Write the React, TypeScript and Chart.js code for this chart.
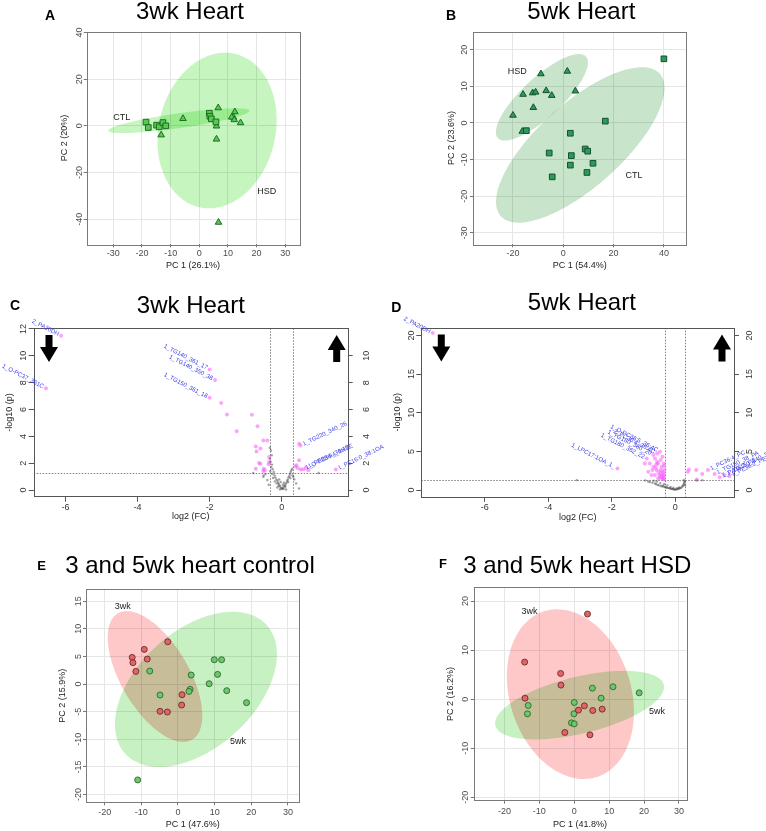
import React, { useEffect, useRef } from 'react';
import { Chart, registerables } from 'chart.js';

Chart.register(...registerables);

const FONT = "'Liberation Sans', Arial, Helvetica, sans-serif";
Chart.defaults.font.family = FONT;

// ---------------- Panel A : 3wk Heart (PCA) ----------------
const aCtlX = [-18.6, -17.8, -14.9, -14.0, -12.7, -11.7, 3.5, 3.7, 4.2, 5.8];
const aCtlY = [1.6, -0.7, 0.3, -0.4, 1.4, 0.0, 5.4, 4.1, 3.0, 1.7];
const aHsdX = [-5.7, -13.3, 6.6, 6.0, 6.0, 12.4, 11.9, 11.3, 12.2, 14.4, 6.7];
const aHsdY = [3.1, -3.9, 7.7, -0.1, -5.7, 6.0, 3.7, 3.7, 2.6, 1.3, -41.3];
// ellipse: [centerX, centerY, halfWidth, halfHeight, xOffsetOfTopPoint]
const aCtlEllipse = [-7.15, 2.2, 24.65, 5.3, 19.7];
const aHsdEllipse = [6.2, -2.0, 20.8, 33.3, 2.8];
const aXTicks = [-30, -20, -10, 0, 10, 20, 30];
const aYTicks = [-40, -20, 0, 20, 40];

// ---------------- Panel B : 5wk Heart (PCA) ----------------
const bHsdX = [-8.9, 1.6, -16.0, -12.2, -11.0, -6.8, -4.6, 4.8, -11.9, -20.0, -16.3];
const bHsdY = [13.4, 14.1, 7.8, 8.2, 8.4, 8.8, 7.5, 8.7, 4.2, 2.1, -2.3];
const bCtlX = [40.0, -14.7, 16.7, 2.8, -5.6, 3.2, 8.7, 9.7, 2.8, 11.8, 9.4, -4.4];
const bCtlY = [17.5, -2.1, 0.5, -2.8, -8.2, -8.9, -7.1, -7.7, -11.5, -11.0, -13.5, -14.7];
const bHsdEllipse = [-8.5, 7.0, 18.3, 11.8, 14.7];
const bCtlEllipse = [6.75, -6.0, 33.5, 21.2, 24.5];
const bXTicks = [-20, 0, 20, 40];
const bYTicks = [-30, -20, -10, 0, 10, 20];

// ---------------- Panel C : 3wk Heart (volcano) ----------------
const cSigX = [-6.12, -6.54, -2.0, -1.85, -2.0, -1.68, -1.52, -0.83, -1.25, -0.67, -0.51, -0.40, -0.72, -0.59, -0.70, -0.63, -0.59, -0.72, -0.50, -0.47, -0.51, -0.36, -0.35, -0.35,
  0.48, 0.52, 0.48, 0.41, 0.53, 0.67, 0.45, 0.60, 0.38, 0.74, 1.50];
const cSigY = [11.5, 7.59, 8.99, 8.2, 6.87, 6.48, 5.64, 5.62, 4.38, 4.75, 3.69, 3.69, 3.25, 3.10, 2.88, 2.02, 1.97, 1.6, 1.6, 1.48, 1.43, 1.92, 2.46, 2.09,
  3.45, 3.32, 2.22, 1.85, 1.53, 1.67, 1.62, 1.55, 1.75, 1.48, 1.53];
const cNsX = [-0.33, -0.30, -0.28, -0.33, -0.31, -0.27, -0.29, -0.25, -0.32, -0.22, -0.26, -0.20, -0.18, -0.24, -0.15, -0.12, -0.19, -0.10, -0.08, -0.14, -0.06, -0.04, -0.02, -0.09, 0.0, 0.02, 0.04, -0.05, 0.05, 0.07, 0.09, 0.11, 0.13, 0.10, 0.15, 0.17, 0.19, 0.21, 0.18, 0.23, 0.25, 0.27, 0.29, 0.24, 0.30, -0.50, -0.79, 1.02, 0.48, 0.32, -0.51, -0.40, -0.45, 0.40, 0.35, -0.36, 0.12, -0.12, -0.03, 0.03, 0.06, -0.07];
const cNsY = [3.15, 2.95, 2.6, 2.34, 2.1, 1.9, 1.7, 1.55, 1.4, 1.35, 1.2, 1.1, 0.95, 0.9, 0.8, 0.7, 0.65, 0.55, 0.45, 0.5, 0.35, 0.25, 0.15, 0.3, 0.1, 0.12, 0.2, 0.05, 0.08, 0.3, 0.35, 0.45, 0.55, 0.25, 0.7, 0.8, 0.95, 1.05, 0.6, 1.2, 1.35, 1.48, 1.6, 0.9, 1.1, 1.1, 1.28, 1.28, 0.12, 0.99, 0.99, 0.75, 1.2, 0.5, 0.8, 0.4, 0.05, 0.2, 0.6, 0.4, 0.55, 0.8];
const cLabelText = ['2_PA20DH', '1_O-PC37_361C', '1_TG140_361_17', '1_TG140_350_38', '1_TG150_361_18', '1_TG220_340_26', '1_O-PE36:4_36:2E', '1_PE38:6_36:4E', '1_PE16:0_38:1OA'];
const cLabelX = [-6.12, -6.54, -2.0, -1.85, -2.0, 0.52, 0.60, 0.67, 1.50];
const cLabelY = [11.5, 7.59, 8.99, 8.2, 6.87, 3.32, 1.55, 1.67, 1.53];
const cXTicks = [-6, -4, -2, 0];
const cYTicks = [0, 2, 4, 6, 8, 10, 12];
const cY2Ticks = [0, 2, 4, 6, 8, 10];

// ---------------- Panel D : 5wk Heart (volcano) ----------------
const dSigX = [-7.64, -1.82, -0.96, -0.90, -0.85, -0.80, -0.75, -0.69, -0.69, -0.64, -0.64, -0.59, -0.57, -0.57, -0.54, -0.54, -0.50, -0.48, -0.46, -0.46, -0.43, -0.43, -0.40, -0.40, -0.38, -0.36, -0.35, -0.34, -0.62, -0.52, -0.45, -0.38, -0.37, -0.41, -0.48, -0.72, -0.60, -0.35, -0.36,
  0.40, 0.43, 0.66, 0.85, 1.03, 1.24, 1.40, 1.55, 1.71, 0.68];
const dSigY = [20.3, 2.8, 3.45, 4.09, 2.37, 3.45, 1.94, 4.53, 3.02, 4.09, 1.94, 2.59, 4.74, 3.66, 3.45, 1.51, 1.94, 4.96, 3.88, 2.59, 3.02, 1.72, 4.31, 1.51, 2.16, 3.45, 1.94, 2.59, 2.9, 2.3, 2.05, 1.45, 1.75, 2.4, 1.6, 2.6, 3.3, 3.1, 1.36,
  2.37, 2.67, 2.59, 2.07, 2.59, 2.07, 1.64, 1.94, 1.81, 1.38];
const dNsX = [-3.1, -0.95, -0.85, -0.80, -0.72, -0.68, -0.64, -0.60, -0.55, -0.58, -0.50, -0.47, -0.44, -0.40, -0.38, -0.35, -0.33, -0.30, -0.27, -0.24, -0.20, -0.17, -0.14, -0.11, -0.08, -0.05, -0.02, 0.01, 0.04, 0.07, 0.10, 0.13, 0.16, 0.19, 0.22, 0.24, 0.26, 0.28, 0.29, 0.30, 0.27, 0.31, 0.12, -0.15, -0.25, 0.05, -0.06, 0.67, 0.85];
const dNsY = [1.29, 1.25, 1.1, 1.05, 0.95, 1.2, 0.86, 0.75, 0.65, 1.1, 0.6, 0.9, 0.5, 0.55, 0.45, 0.75, 0.4, 0.35, 0.32, 0.28, 0.25, 0.22, 0.18, 0.15, 0.12, 0.1, 0.08, 0.07, 0.09, 0.12, 0.16, 0.2, 0.25, 0.32, 0.45, 0.55, 0.7, 0.85, 1.0, 1.15, 1.3, 0.6, 0.35, 0.4, 0.6, 0.25, 0.3, 1.25, 1.28];
const dLabelText = ['2_PA20DH', '1_O-PC38:5_36:4C', '2_PC36:4_36:4C', '1_TG160_380_20', '1_TG180_362_22', '1_LPC17:1OA_1_', '1_PC36:4_PC', '1_TG160_38_PA', '1_PA36:2_PA', '1_TG150_340_30', '1_PE36:2_PE'];
const dLabelX = [-7.64, -0.48, -0.57, -0.69, -0.90, -1.82, 1.03, 1.24, 1.40, 1.55, 1.71];
const dLabelY = [20.3, 4.96, 4.74, 4.53, 4.09, 2.8, 2.59, 2.07, 1.64, 1.94, 1.81];
const dXTicks = [-6, -4, -2, 0];
const dYTicks = [0, 5, 10, 15, 20];

const fcCut = 0.32;
const pCut = 1.3;

// ---------------- Panel E : 3 and 5wk heart control ----------------
const eW3X = [-2.8, -9.2, -12.5, -8.4, -12.3, -11.5, 1.1, 1.0, -4.9, -2.9];
const eW3Y = [7.65, 6.27, 4.82, 4.52, 3.86, 2.29, -1.93, -3.80, -4.94, -5.06];
const eW5X = [-7.7, -4.9, 3.6, 3.3, 3.0, 9.9, 11.9, 10.8, 8.5, 13.3, 18.7, -11.0];
const eW5Y = [2.35, -1.99, 1.63, -0.96, -1.33, 4.40, 4.40, 1.75, 0.06, -1.20, -3.37, -17.35];
const eW3Ellipse = [-6.27, 1.36, 12.9, 11.84, -7.7];
const eW5Ellipse = [4.9, -0.96, 22.1, 14.04, 10.0];
const eXTicks = [-20, -10, 0, 10, 20, 30];
const eYTicks = [-20, -15, -10, -5, 0, 5, 10, 15];

// ---------------- Panel F : 3 and 5wk heart HSD ----------------
const fW3X = [3.8, -14.2, -3.9, -3.8, -14.1, 2.9, 1.2, 5.3, 8.0, -2.7, 4.5];
const fW3Y = [17.35, 7.55, 5.24, 2.86, 0.2, -1.36, -2.24, -2.31, -2.04, -6.80, -7.28];
const fW5X = [-13.2, -13.4, 0.0, -0.1, -0.8, 0.0, 5.2, 7.7, 11.1, 18.6];
const fW5Y = [-1.29, -2.99, -0.68, -2.99, -4.83, -5.03, 2.24, 0.2, 2.52, 1.29];
const fW3Ellipse = [-1.1, 1.02, 18.2, 17.3, -3.8];
const fW5Ellipse = [1.53, -1.22, 24.2, 6.99, 12.8];
const fXTicks = [-20, -10, 0, 10, 20, 30];
const fYTicks = [-20, -10, 0, 10, 20];

const pts = (xs: number[], ys: number[]) => xs.map((x, i) => ({ x, y: ys[i] }));
const labels = (t: string[], xs: number[], ys: number[]) => t.map((text, i) => ({ text, x: xs[i], y: ys[i] }));

const W = 766;
const H = 831;

const sq = (data: any, bg: string, bd: string) => ({ data, pointStyle: 'rect', pointRadius: 4, backgroundColor: bg, borderColor: bd, borderWidth: 1 });
const tri = (data: any, bg: string, bd: string) => ({ data, pointStyle: 'triangle', pointRadius: 3.8, backgroundColor: bg, borderColor: bd, borderWidth: 1 });
const circ = (data: any, bg: string, bd: string) => ({ data, pointStyle: 'circle', pointRadius: 3, backgroundColor: bg, borderColor: bd, borderWidth: 0.9 });
const sig = (data: any) => ({ data, pointStyle: 'circle', pointRadius: 2, backgroundColor: 'rgba(250,90,250,0.55)', borderWidth: 0 });
const ns = (data: any) => ({ data, pointStyle: 'circle', pointRadius: 1.2, backgroundColor: 'rgba(70,70,70,0.5)', borderWidth: 0 });

const RED_E = 'rgb(255,200,200)';
const GRN_E = 'rgb(200,241,195)';

const PANELS: any[] = [
  {
    kind: 'pca', box: [86.7, 31.7, 299.3, 244.3], xRange: [-39.3, 34.9], yRange: [-50.7, 40.3],
    xTicks: aXTicks, yTicks: aYTicks, xTitle: 'PC 1 (26.1%)', yTitle: 'PC 2 (20%)',
    title: '3wk Heart', titleAt: [190, 18.5], letter: 'A', letterAt: [50, 20],
    yTitleDist: 22.4, xTitleDist: 21.4, xTickDist: 9.7, yTickDist: 7,
    ellipses: [{ e: aHsdEllipse, color: 'rgb(198,245,192)' }, { e: aCtlEllipse, color: 'rgb(198,245,192)' }],
    groups: [{ text: 'CTL', x: -27.1, y: 3.6 }, { text: 'HSD', x: 23.5, y: -27.9 }],
    datasets: [sq(pts(aCtlX, aCtlY), '#55C855', '#1E6E1E'), tri(pts(aHsdX, aHsdY), '#55C855', '#1E6E1E')],
  },
  {
    kind: 'pca', box: [473, 31.7, 686.3, 244.3], xRange: [-35.9, 48.9], yRange: [-33.1, 24.9],
    xTicks: bXTicks, yTicks: bYTicks, xTitle: 'PC 1 (54.4%)', yTitle: 'PC 2 (23.6%)',
    title: '5wk Heart', titleAt: [581.3, 18.5], letter: 'B', letterAt: [451, 20],
    yTitleDist: 21.7, xTitleDist: 21.4, xTickDist: 9.7, yTickDist: 8,
    ellipses: [{ e: bHsdEllipse, color: 'rgb(200,228,202)' }, { e: bCtlEllipse, color: 'rgb(200,228,202)' }],
    groups: [{ text: 'HSD', x: -18.3, y: 14.0 }, { text: 'CTL', x: 28.1, y: -14.4 }],
    datasets: [sq(pts(bCtlX, bCtlY), '#2E9A5A', '#14512F'), tri(pts(bHsdX, bHsdY), '#2E9A5A', '#14512F')],
  },
  {
    kind: 'volcano', box: [33.7, 328.3, 347.7, 496.7], xRange: [-6.88, 1.83], yRange: [-0.49, 12.05],
    xTicks: cXTicks, yTicks: cYTicks, y2Ticks: cY2Ticks, xTitle: 'log2 (FC)', yTitle: '-log10 (p)',
    title: '3wk Heart', titleAt: [190.8, 312.5], letter: 'C', letterAt: [15, 310],
    yTitleDist: 23.7, xTitleDist: 20, xTickDist: 10.6, yTickDist: 9.7, y2TickDist: 19,
    arrows: [{ side: 'left', d: 15.3, dir: 'down' }, { side: 'right', d: 11, dir: 'up' }],
    labels: labels(cLabelText, cLabelX, cLabelY),
    datasets: [ns(pts(cNsX, cNsY)), sig(pts(cSigX, cSigY))],
  },
  {
    kind: 'volcano', box: [421.3, 327.7, 734, 496.7], xRange: [-8.0, 1.85], yRange: [-0.86, 21.0],
    xTicks: dXTicks, yTicks: dYTicks, y2Ticks: dYTicks, xTitle: 'log2 (FC)', yTitle: '-log10 (p)',
    title: '5wk Heart', titleAt: [581.8, 310], letter: 'D', letterAt: [396.3, 311.7],
    yTitleDist: 23.3, xTitleDist: 20.6, xTickDist: 10.6, yTickDist: 10, y2TickDist: 15.7,
    arrows: [{ side: 'left', d: 20, dir: 'down' }, { side: 'right', d: 12, dir: 'up' }],
    labels: labels(dLabelText, dLabelX, dLabelY),
    datasets: [ns(pts(dNsX, dNsY)), sig(pts(dSigX, dSigY))],
  },
  {
    kind: 'pca', box: [86, 589, 299.3, 802.3], xRange: [-25.1, 33.1], yRange: [-21.4, 17.2],
    xTicks: eXTicks, yTicks: eYTicks, xTitle: 'PC 1 (47.6%)', yTitle: 'PC 2 (15.9%)',
    title: '3 and 5wk heart control', titleAt: [190, 573.3], letter: 'E', letterAt: [41.7, 570], letterSize: 13,
    yTitleDist: 23.3, xTitleDist: 22.7, xTickDist: 10.4, yTickDist: 7,
    ellipses: [{ e: eW3Ellipse, color: RED_E }, { e: eW5Ellipse, color: GRN_E }],
    groups: [{ text: '3wk', x: -15.1, y: 14.1 }, { text: '5wk', x: 16.4, y: -10.4 }],
    datasets: [circ(pts(eW3X, eW3Y), '#DE6666', '#6E2A2A'), circ(pts(eW5X, eW5Y), '#6CC66C', '#2C6A2C')],
  },
  {
    kind: 'pca', box: [473.7, 587.3, 686.3, 800.7], xRange: [-28.8, 32.1], yRange: [-20.7, 22.8],
    xTicks: fXTicks, yTicks: fYTicks, xTitle: 'PC 1 (41.8%)', yTitle: 'PC 2 (16.2%)',
    title: '3 and 5wk heart HSD', titleAt: [577.2, 572.7], letter: 'F', letterAt: [443, 568.3], letterSize: 13,
    yTitleDist: 23, xTitleDist: 24.3, xTickDist: 11, yTickDist: 8.5,
    ellipses: [{ e: fW3Ellipse, color: RED_E }, { e: fW5Ellipse, color: GRN_E }],
    groups: [{ text: '3wk', x: -12.8, y: 17.8 }, { text: '5wk', x: 23.7, y: -2.6 }],
    datasets: [circ(pts(fW3X, fW3Y), '#DE6666', '#6E2A2A'), circ(pts(fW5X, fW5Y), '#6CC66C', '#2C6A2C')],
  },
];

function drawEllipse(chart: any, e: number[], color: string) {
  const ctx = chart.ctx;
  const xs = chart.scales.x;
  const ys = chart.scales.y;
  const [cx, cy, rx, ry, tdx] = e;
  const ax = rx;
  const ay = (ry * tdx) / rx;
  const by = ry * Math.sqrt(Math.max(0, 1 - (tdx / rx) * (tdx / rx)));
  ctx.beginPath();
  const n = 160;
  for (let i = 0; i <= n; i++) {
    const t = (i / n) * Math.PI * 2;
    const dx = cx + ax * Math.cos(t);
    const dy = cy + ay * Math.cos(t) + by * Math.sin(t);
    const px = xs.getPixelForValue(dx);
    const py = ys.getPixelForValue(dy);
    if (i === 0) ctx.moveTo(px, py);
    else ctx.lineTo(px, py);
  }
  ctx.closePath();
  ctx.fillStyle = color;
  ctx.fill();
}

function drawRotatedTicks(ctx: any, scale: any, x: number, color: string) {
  ctx.save();
  ctx.fillStyle = color;
  ctx.font = `9px ${FONT}`;
  ctx.textAlign = 'center';
  ctx.textBaseline = 'middle';
  for (const t of scale.ticks) {
    const py = scale.getPixelForValue(t.value);
    ctx.save();
    ctx.translate(x, py);
    ctx.rotate(-Math.PI / 2);
    ctx.fillText(String(t.value), 0, 0);
    ctx.restore();
  }
  ctx.restore();
}

function drawArrow(ctx: any, cx: number, top: number, bottom: number, dir: string) {
  const headW = 18;
  const shaftW = 7;
  const headLen = 15;
  ctx.beginPath();
  if (dir === 'down') {
    ctx.moveTo(cx - shaftW / 2, top);
    ctx.lineTo(cx + shaftW / 2, top);
    ctx.lineTo(cx + shaftW / 2, bottom - headLen);
    ctx.lineTo(cx + headW / 2, bottom - headLen);
    ctx.lineTo(cx, bottom);
    ctx.lineTo(cx - headW / 2, bottom - headLen);
    ctx.lineTo(cx - shaftW / 2, bottom - headLen);
  } else {
    ctx.moveTo(cx - shaftW / 2, bottom);
    ctx.lineTo(cx + shaftW / 2, bottom);
    ctx.lineTo(cx + shaftW / 2, top + headLen);
    ctx.lineTo(cx + headW / 2, top + headLen);
    ctx.lineTo(cx, top);
    ctx.lineTo(cx - headW / 2, top + headLen);
    ctx.lineTo(cx - shaftW / 2, top + headLen);
  }
  ctx.closePath();
  ctx.fillStyle = '#000';
  ctx.fill();
}

function buildChart(canvas: HTMLCanvasElement, p: any) {
  const [L, T, R, B] = p.box;
  const isPca = p.kind === 'pca';
  const tickLen = isPca ? 3 : 5;
  const fs = 9;
  const lh = fs * 1.2;
  const Wy = p.yTitleDist + lh / 2;
  const Hx = p.xTitleDist + lh / 2;
  const Wr = isPca ? 0 : 26;
  const tickColor = isPca ? '#4D4D4D' : '#333';
  const gridColor = '#E6E6E6';
  const tickMarkColor = isPca ? '#777' : '#555';

  const scales: any = {
    x: {
      type: 'linear', position: 'bottom', min: p.xRange[0], max: p.xRange[1], bounds: 'data',
      afterBuildTicks: (s: any) => { s.ticks = p.xTicks.map((v: number) => ({ value: v })); },
      afterFit: (s: any) => { s.height = Hx; },
      grid: { display: true, drawOnChartArea: isPca, color: gridColor, lineWidth: 1, drawTicks: true, tickLength: tickLen, tickColor: tickMarkColor, tickWidth: 1 },
      border: { display: false },
      ticks: { color: tickColor, font: { size: fs, family: FONT }, padding: p.xTickDist - tickLen - lh / 2, maxRotation: 0, minRotation: 0, autoSkip: false },
      title: { display: true, text: p.xTitle, color: '#222', font: { size: fs, family: FONT }, padding: 0 },
    },
    y: {
      type: 'linear', position: 'left', min: p.yRange[0], max: p.yRange[1], bounds: 'data',
      afterBuildTicks: (s: any) => { s.ticks = p.yTicks.map((v: number) => ({ value: v })); },
      afterFit: (s: any) => { s.width = Wy; },
      grid: { display: true, drawOnChartArea: isPca, color: gridColor, lineWidth: 1, drawTicks: true, tickLength: tickLen, tickColor: tickMarkColor, tickWidth: 1 },
      border: { display: false },
      ticks: { display: false },
      title: { display: true, text: p.yTitle, color: '#222', font: { size: fs, family: FONT }, padding: 0 },
    },
  };
  if (!isPca) {
    scales.y2 = {
      type: 'linear', position: 'right', min: p.yRange[0], max: p.yRange[1], bounds: 'data',
      afterBuildTicks: (s: any) => { s.ticks = p.y2Ticks.map((v: number) => ({ value: v })); },
      afterFit: (s: any) => { s.width = Wr; },
      grid: { display: true, drawOnChartArea: false, drawTicks: true, tickLength: tickLen, tickColor: tickMarkColor, tickWidth: 1 },
      border: { display: false },
      ticks: { display: false },
      title: { display: false },
    };
  }

  const decor = {
    id: 'decor',
    beforeDatasetsDraw(chart: any) {
      const ctx = chart.ctx;
      const ca = chart.chartArea;
      ctx.save();
      ctx.beginPath();
      ctx.rect(ca.left, ca.top, ca.right - ca.left, ca.bottom - ca.top);
      ctx.clip();
      if (p.ellipses) {
        ctx.globalCompositeOperation = 'multiply';
        for (const el of p.ellipses) drawEllipse(chart, el.e, el.color);
        ctx.globalCompositeOperation = 'source-over';
      }
      if (!isPca) {
        const xs = chart.scales.x;
        const ys = chart.scales.y;
        ctx.strokeStyle = '#808080';
        ctx.lineWidth = 1;
        ctx.setLineDash([1.5, 1.5]);
        for (const v of [-fcCut, fcCut]) {
          const px = Math.round(xs.getPixelForValue(v)) + 0.5;
          ctx.beginPath();
          ctx.moveTo(px, ca.top);
          ctx.lineTo(px, ca.bottom);
          ctx.stroke();
        }
        const py = Math.round(ys.getPixelForValue(pCut)) + 0.5;
        ctx.beginPath();
        ctx.moveTo(ca.left, py);
        ctx.lineTo(ca.right, py);
        ctx.stroke();
        ctx.setLineDash([]);
      }
      ctx.restore();
    },
    afterDraw(chart: any) {
      const ctx = chart.ctx;
      const ca = chart.chartArea;
      const xs = chart.scales.x;
      const ys = chart.scales.y;
      ctx.save();
      // frame
      ctx.strokeStyle = isPca ? '#7A7A7A' : '#555';
      ctx.lineWidth = 1;
      ctx.strokeRect(Math.round(ca.left) + 0.5, Math.round(ca.top) + 0.5, Math.round(ca.right - ca.left), Math.round(ca.bottom - ca.top));
      // rotated y tick labels
      drawRotatedTicks(ctx, ys, ca.left - p.yTickDist, tickColor);
      if (!isPca) drawRotatedTicks(ctx, chart.scales.y2, ca.right + p.y2TickDist, tickColor);
      // group labels
      if (p.groups) {
        ctx.fillStyle = '#222';
        ctx.font = `9px ${FONT}`;
        ctx.textAlign = 'center';
        ctx.textBaseline = 'middle';
        for (const g of p.groups) ctx.fillText(g.text, xs.getPixelForValue(g.x), ys.getPixelForValue(g.y));
      }
      // volcano labels
      if (p.labels) {
        ctx.fillStyle = 'rgb(60,60,235)';
        ctx.font = `6px ${FONT}`;
        ctx.textBaseline = 'middle';
        for (const lb of p.labels) {
          const px = xs.getPixelForValue(lb.x);
          const py = ys.getPixelForValue(lb.y);
          ctx.save();
          if (lb.x < 0) {
            ctx.translate(px - 2.5, py - 1.2);
            ctx.rotate(0.48);
            ctx.textAlign = 'right';
          } else {
            ctx.translate(px + 2.5, py - 1.2);
            ctx.rotate(-0.45);
            ctx.textAlign = 'left';
          }
          ctx.fillText(lb.text, 0, 0);
          ctx.restore();
        }
      }
      // arrows
      if (p.arrows) {
        for (const a of p.arrows) {
          const cx = a.side === 'left' ? ca.left + a.d : ca.right - a.d;
          drawArrow(ctx, cx, ca.top + 6.7, ca.top + 33.8, a.dir);
        }
      }
      // title and panel letter
      ctx.fillStyle = '#000';
      ctx.textBaseline = 'alphabetic';
      ctx.textAlign = 'center';
      ctx.font = `24px ${FONT}`;
      ctx.fillText(p.title, p.titleAt[0], p.titleAt[1]);
      ctx.font = `bold ${p.letterSize || 14}px ${FONT}`;
      ctx.fillText(p.letter, p.letterAt[0], p.letterAt[1]);
      ctx.restore();
    },
  };

  return new Chart(canvas, {
    type: 'scatter',
    data: { datasets: p.datasets },
    options: {
      responsive: false,
      animation: false,
      events: [],
      layout: {
        autoPadding: false,
        padding: { left: L - Wy, top: T, right: W - R - Wr, bottom: H - B - Hx },
      },
      plugins: { legend: { display: false }, tooltip: { enabled: false }, title: { display: false } },
      scales,
    },
    plugins: [decor],
  } as any);
}

export default function App() {
  const refs = useRef<(HTMLCanvasElement | null)[]>([]);
  useEffect(() => {
    const charts = PANELS.map((p, i) => buildChart(refs.current[i] as HTMLCanvasElement, p));
    return () => charts.forEach((c) => c.destroy());
  }, []);
  return (
    <div style={{ position: 'fixed', left: 0, top: 0, width: W, height: H, background: '#fff', overflow: 'hidden' }}>
      {PANELS.map((_, i) => (
        <canvas
          key={i}
          ref={(el) => { refs.current[i] = el; }}
          width={W}
          height={H}
          style={{ position: 'absolute', left: 0, top: 0, width: W, height: H, pointerEvents: 'none' }}
        />
      ))}
    </div>
  );
}
